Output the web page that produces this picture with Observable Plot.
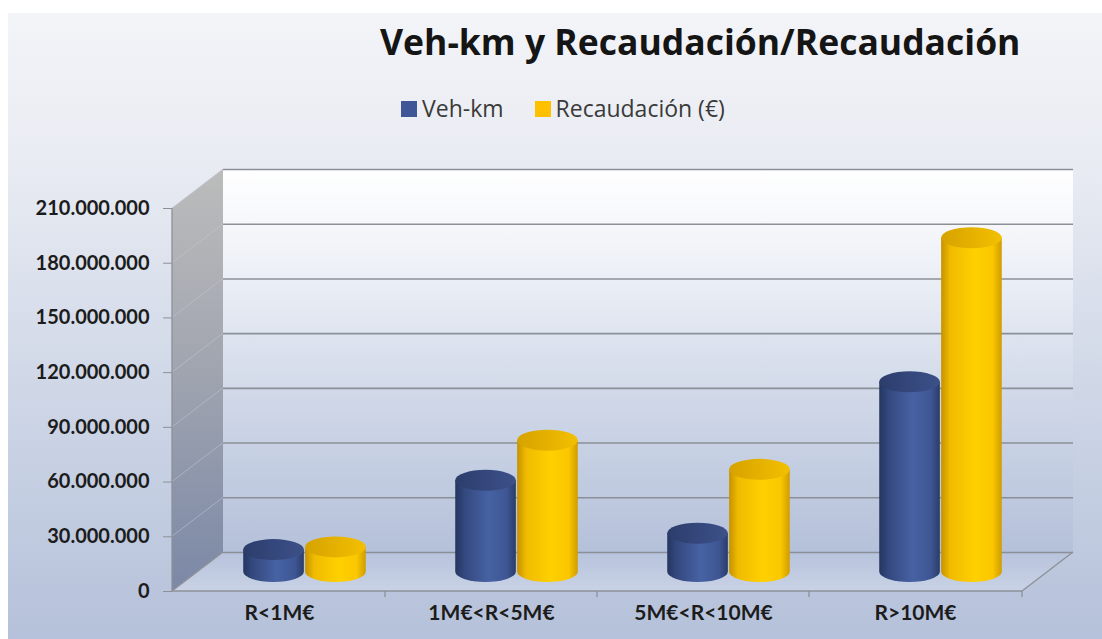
<!DOCTYPE html>
<html>
<head>
<meta charset="utf-8">
<script src="https://cdn.jsdelivr.net/npm/d3@7"></script>
<script src="https://cdn.jsdelivr.net/npm/@observablehq/plot@0.6"></script>
<style>
  html, body { margin: 0; padding: 0; background: #ffffff; }
  #wrap { position: relative; width: 1102px; height: 639px; overflow: hidden; }
  #bg { position: absolute; left: 8px; top: 13px; right: 0; bottom: 0;
        background: linear-gradient(180deg, #f3f4f8 0%, #e8ebf2 25%, #cfd7e7 60%, #b5c1da 100%); }
  #title { position: absolute; left: 380px; top: 17px; font-family: "Open Sans", sans-serif; font-weight: 700;
           font-size: 35.5px; color: #151515; white-space: nowrap; }
  #legend { position: absolute; left: 401px; top: 93px; font-family: "Open Sans", sans-serif; font-size: 23px;
            line-height: 31px; color: #3a3a3a; white-space: nowrap; display: flex; align-items: center; }
  #legend .sw { display: inline-block; width: 16px; height: 16px; margin-right: 5px; }
  #legend .item { display: flex; align-items: center; margin-right: 31px; }
  #plot { position: absolute; left: 0; top: 150px; }
  #plot svg { background: transparent !important; overflow: visible; }
</style>
</head>
<body>
<div id="wrap">
  <div id="bg"></div>
  <div id="title"></div>
  <div id="legend"></div>
  <div id="plot"></div>
</div>
<script>
// ---------------- data ----------------
const categories = ["R<1M€", "1M€<R<5M€", "5M€<R<10M€", "R>10M€"];
const seriesNames = ["Veh-km", "Recaudación (€)"];
const vehKm = [12000000, 50000000, 21000000, 104000000];
const recaudacion = [13500000, 72000000, 56000000, 183000000];
const yTicks = [0, 30000000, 60000000, 90000000, 120000000, 150000000, 180000000, 210000000];
const titleText = "Veh-km y Recaudación/Recaudación";
const seriesColors = ["#3f5796", "#ffc000"];

// table built from the arrays
const table = [];
categories.forEach((c, i) => {
  table.push({cat: c, series: seriesNames[0], s: 0, value: vehKm[i]});
  table.push({cat: c, series: seriesNames[1], s: 1, value: recaudacion[i]});
});

// ---------------- header ----------------
document.getElementById("title").textContent = titleText;
const legend = document.getElementById("legend");
seriesNames.forEach((name, i) => {
  const it = document.createElement("span");
  it.className = "item";
  const sw = document.createElement("span");
  sw.className = "sw";
  sw.style.background = seriesColors[i];
  it.appendChild(sw);
  it.appendChild(document.createTextNode(name));
  legend.appendChild(it);
});

// ---------------- 3D helpers ----------------
const DX = 51, DY = -39;          // depth offset of the back wall
const yMax = yTicks[yTicks.length - 1];
const locale = d3.formatLocale({decimal: ",", thousands: ".", grouping: [3], currency: ["", "€"]});
const fmt = locale.format(",d");

function addLinear(defs, id, stops, vertical) {
  const lg = defs.append("linearGradient").attr("id", id)
    .attr("x1", 0).attr("y1", 0).attr("x2", vertical ? 0 : 1).attr("y2", vertical ? 1 : 0);
  stops.forEach(([o, c]) => lg.append("stop").attr("offset", o).attr("stop-color", c));
}

function walls(index, scales, values, dim) {
  const {y} = scales;
  const x0 = dim.marginLeft, x1 = dim.width - dim.marginRight;
  const y0 = y(0), yT = y(yMax);
  const g = d3.create("svg:g");
  const defs = g.append("defs");
  addLinear(defs, "gBack", [[0, "#ffffff"], [0.25, "#eef1f7"], [0.6, "#d0d8e8"], [1, "#b5c1da"]], true);
  addLinear(defs, "gSide", [[0, "#bcbcbc"], [0.45, "#a2a6b0"], [1, "#7b88a6"]], true);
  addLinear(defs, "gFloor", [[0, "#b7c3dc"], [1, "#c9d2e5"]], true);
  g.append("rect").attr("x", x0 + DX).attr("y", yT + DY).attr("width", x1 - x0).attr("height", y0 - yT)
    .attr("fill", "url(#gBack)");
  g.append("path").attr("d", `M${x0},${yT}L${x0 + DX},${yT + DY}L${x0 + DX},${y0 + DY}L${x0},${y0}Z`)
    .attr("fill", "url(#gSide)");
  g.append("path").attr("d", `M${x0},${y0}L${x0 + DX},${y0 + DY}L${x1 + DX},${y0 + DY}L${x1},${y0}Z`)
    .attr("fill", "url(#gFloor)");
  yTicks.forEach(v => {
    g.append("line").attr("x1", x0).attr("y1", y(v)).attr("x2", x0 + DX).attr("y2", y(v) + DY)
      .attr("stroke", "#c3c7cf").attr("stroke-opacity", 0.55).attr("stroke-width", 1);
  });
  return g.node();
}

function edges(index, scales, values, dim) {
  const {x, y} = scales;
  const x0 = dim.marginLeft, x1 = dim.width - dim.marginRight;
  const y0 = y(0), yT = y(yMax);
  const g = d3.create("svg:g").attr("stroke", "#8d9097").attr("stroke-width", 1.3).attr("fill", "none");
  g.append("line").attr("x1", x0).attr("y1", y0).attr("x2", x1).attr("y2", y0);
  g.append("line").attr("x1", x1).attr("y1", y0).attr("x2", x1 + DX).attr("y2", y0 + DY);
  g.append("line").attr("x1", x0).attr("y1", y0).attr("x2", x0 + DX).attr("y2", y0 + DY);
  g.append("line").attr("x1", x0).attr("y1", yT).attr("x2", x0).attr("y2", y0);
  categories.slice(1).forEach(c => {
    const xb = x(c);
    g.append("line").attr("x1", xb).attr("y1", y0).attr("x2", xb).attr("y2", y0 + 6);
  });
  g.append("line").attr("x1", x1).attr("y1", y0).attr("x2", x1).attr("y2", y0 + 6);
  return g.node();
}

function cylinders(index, scales, values, dim) {
  const {x, y} = scales;
  const bw = x.bandwidth ? x.bandwidth() : (dim.width - dim.marginLeft - dim.marginRight) / categories.length;
  const g = d3.create("svg:g");
  const defs = g.append("defs");
  addLinear(defs, "cyl0", [[0, "#24365f"], [0.15, "#33487e"], [0.55, "#4762a3"], [0.85, "#3e5693"], [1, "#2a3c6a"]], false);
  addLinear(defs, "cyl1", [[0, "#c69200"], [0.15, "#f0bb00"], [0.55, "#ffd000"], [0.85, "#fbc700"], [1, "#cf9c00"]], false);
  addLinear(defs, "top0", [[0, "#2c3d6b"], [0.6, "#36497f"], [1, "#3c5188"]], false);
  addLinear(defs, "top1", [[0, "#d6a200"], [0.6, "#e8b400"], [1, "#f2c000"]], false);
  const rx = bw * 0.143, ry = 10.5;
  table.forEach(d => {
    const cx = x(d.cat) + bw / 2 + DX / 2 + (d.s === 0 ? -1 : 1) * bw * 0.146;
    const yb = y(0) + DY / 2;
    const yt = y(d.value) + DY / 2;
    g.append("path")
      .attr("d", `M${cx - rx},${yt}L${cx - rx},${yb}A${rx},${ry} 0 0 0 ${cx + rx},${yb}L${cx + rx},${yt}Z`)
      .attr("fill", `url(#cyl${d.s})`);
    g.append("ellipse").attr("cx", cx).attr("cy", yt).attr("rx", rx).attr("ry", ry)
      .attr("fill", `url(#top${d.s})`);
  });
  return g.node();
}

// ---------------- plot ----------------
const chart = Plot.plot({
  width: 1102,
  height: 489,
  marginTop: 58,
  marginBottom: 48,
  marginLeft: 172,
  marginRight: 80,
  style: {background: "transparent", overflow: "visible"},
  x: {type: "band", domain: categories, padding: 0},
  y: {domain: [0, yMax]},
  marks: [
    walls,
    Plot.ruleY(yTicks, {dx: DX, dy: DY, stroke: "#8b8f97", strokeWidth: 1.6}),
    edges,
    cylinders,
    Plot.axisY(yTicks, {tickSize: 9, tickPadding: 14, tickFormat: fmt, stroke: "#8d9097",
      fontFamily: "Lato", fontWeight: "bold", fontSize: 20, fill: "#1c1c1c"}),
    Plot.axisX({tickSize: 0, tickPadding: 14, fontFamily: "Lato", fontWeight: "bold", fontSize: 21, fill: "#1c1c1c"})
  ]
});
document.getElementById("plot").appendChild(chart);
</script>
</body>
</html>
